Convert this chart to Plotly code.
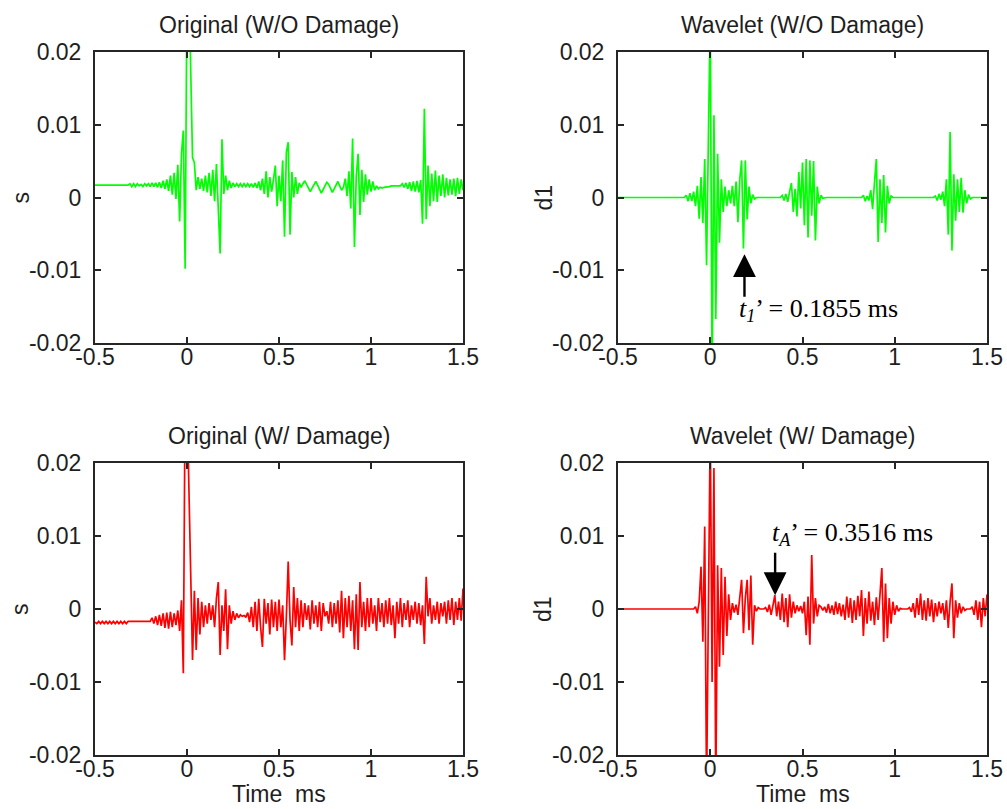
import numpy as np
import plotly.graph_objects as go

# Sample times (ms), 0.01 ms spacing from -0.5 to 1.5
time_ms = np.round(np.linspace(-0.5, 1.5, 201), 2)

# Signal amplitudes in units of 1e-3, one row per 0.1 ms
orig_no_damage = [
    1.7, 1.7, 1.7, 1.7, 1.7, 1.7, 1.7, 1.7, 1.7, 1.7,
    1.7, 1.7, 1.7, 1.7, 1.7, 1.7, 1.7, 1.7, 1.7, 1.9,
    1.5, 1.9, 1.5, 1.9, 1.6, 1.8, 1.5, 1.9, 1.6, 1.9,
    1.5, 2.0, 1.5, 2.0, 1.4, 2.1, 1.3, 2.3, 1.2, 2.5,
    0.9, 3.0, 0.4, 3.4, -0.2, 4.5, -3.3, 6.0, 9.2, -9.8,
    30, 30, 17, 5.5, 4.8, 1.0, 2.8, 1.2, 2.6, 0.9,
    3.0, 0.7, 3.4, 0.2, 3.8, -0.5, 4.6, -1.8, -7.7, 8.0,
    0.5, 3.0, 1.0, 2.3, 1.3, 2.0, 1.5, 1.9, 1.5, 1.9,
    1.5, 1.9, 1.5, 1.9, 1.5, 1.9, 1.4, 2.0, 1.3, 2.2,
    1.0, 2.6, 0.5, 3.6, 0.0, 2.8, 0.8, 2.5, 4.4, -1.2,
    3.0, -0.5, 5.1, -5.4, 6.2, 7.6, -5.1, 3.5, 0.0, 2.8,
    0.5, 2.0, 1.4, 1.9, 2.3, 1.8, 1.2, 0.8, 1.3, 1.8,
    2.2, 1.7, 1.2, 0.6, 1.1, 1.6, 2.1, 1.8, 1.2, 0.7,
    1.2, 1.7, 2.2, 1.6, 1.0, 1.4, 2.6, 0.2, 3.6, -1.5,
    8.1, -6.8, 3.0, 6.0, -2.4, 3.8, -0.6, 3.2, 0.4, 2.5,
    0.8, 2.2, 1.0, 1.6, 1.2, 1.4, 1.3, 1.4, 1.4, 1.5,
    1.5, 1.6, 1.6, 1.7, 1.6, 1.7, 1.6, 1.9, 1.4, 2.0,
    1.2, 2.1, 0.9, 2.2, 0.8, 2.3, 0.7, 2.4, -3.6, 12.2,
    -3.0, 4.4, -1.2, 3.3, -0.5, 3.7, -0.6, 3.0, 0.2, 3.2,
    0.0, 2.7, 0.3, 2.5, 0.4, 2.6, 0.2, 2.7, 0.5, 2.5,
    1.0,
]

wavelet_no_damage = [
    0, 0, 0, 0, 0, 0, 0, 0, 0, 0,
    0, 0, 0, 0, 0, 0, 0, 0, 0, 0,
    0, 0, 0, 0, 0, 0, 0, 0, 0, 0,
    0, 0, 0, 0, 0, 0, 0, 0.3, -0.5, 0.6,
    -0.5, 0.8, -1.2, 1.6, -2.9, 2.8, -3.5, 5.3, -9.3, 8.3,
    25, -25, 11.3, -16.7, 6.0, -6.2, 2.5, -2.0, 1.5, -1.2,
    1.0, -0.8, 1.6, -1.2, 2.2, -3.4, 2.5, 5.1, -7.0, 5.1,
    -3.0, 1.5, -0.8, 0.4, -0.2, 0, 0, 0, 0, 0,
    0, 0, 0, 0, 0, 0, 0, 0, 0, 0.3,
    -0.4, 0.5, -0.6, 0.8, 2.0, -2.0, 1.2, -2.6, 3.5, -1.5,
    4.8, -3.8, 5.3, -5.5, 5.1, -2.5, 5.0, -5.9, 1.5, -0.8,
    0.3, -0.1, 0, 0, 0, 0, 0, 0, 0, 0,
    0, 0, 0, 0, 0, 0, 0, 0, 0, 0,
    0, 0, 0, 0.3, -0.5, 0.2, -0.4, 1.0, -1.6, 2.0,
    5.3, -6.1, 2.5, -3.5, 3.1, -4.8, 1.6, -0.8, 0.2, 0,
    0, 0, 0, 0, 0, 0, 0, 0, 0, 0,
    0, 0, 0, 0, 0, 0, 0, 0, 0, 0,
    0, 0, 0.2, -0.4, 0.5, -0.3, 0.8, -1.2, 2.5, -5.1,
    9.0, -7.3, 3.2, -3.2, 2.5, -2.0, 2.7, -2.1, 1.0, -0.8,
    0.4, -0.2, 0, 0, 0, 0, 0, 0, 0, 0,
    0,
]

orig_damage = [
    -1.8, -2.0, -1.7, -2.0, -1.7, -2.0, -1.7, -2.0, -1.7, -2.0,
    -1.7, -2.0, -1.7, -2.0, -1.7, -2.0, -1.7, -2.0, -1.7, -1.7,
    -1.7, -1.7, -1.7, -1.7, -1.7, -1.7, -1.7, -1.7, -1.7, -1.7,
    -1.7, -1.2, -2.0, -1.0, -2.2, -0.8, -2.3, -0.6, -2.6, -0.5,
    -2.7, -0.4, -2.5, -0.6, -2.2, -0.2, -3.0, 1.2, -8.8, 30,
    30, 17, 5.1, -7.0, 2.5, -5.6, 1.5, -3.5, 1.0, -2.5,
    0.5, -2.0, 0.8, -1.5, 0.5, -2.5, 1.5, 3.7, -6.3, 0.5,
    -3.0, 2.7, -5.5, 0.5, -2.0, -0.3, -1.5, -0.6, -1.2, -0.8,
    -1.0, -0.9, -1.1, -0.5, -1.8, 0.3, -2.5, 1.0, -3.0, 1.4,
    -2.5, -5.2, 1.4, -2.0, 0.8, -3.5, 1.3, -2.5, 1.0, -3.0,
    1.3, -2.5, 0.5, -7.0, -1.0, 6.5, -1.5, -5.0, 3.0, -2.5,
    1.5, -3.0, 1.2, -2.5, 0.8, -1.5, 0.5, -2.8, 1.2, -2.0,
    0.5, -2.5, 1.0, -3.0, 0.8, -1.0, -0.3, -2.0, 1.0, -2.5,
    0.8, -2.0, 1.2, -3.2, 2.5, -4.0, 1.5, -2.5, 1.8, -3.0,
    1.2, -5.5, 2.0, -5.6, 3.7, -2.5, 1.0, -3.0, 1.5, -2.5,
    1.5, -2.0, 0.5, -3.0, 1.5, -1.8, 0.8, -2.5, 1.2, -2.0,
    1.5, -2.2, 0.5, -4.0, 1.0, -2.0, 1.5, -2.5, 0.8, -1.5,
    1.2, -2.5, 0.5, -1.5, 1.0, -2.0, 0.8, -2.2, 0.5, -4.8,
    4.4, -1.0, 1.5, -2.0, 0.5, -1.5, 1.0, -2.0, 0.8, -1.0,
    1.0, -2.0, 1.2, -1.5, 1.5, -2.2, 1.0, -1.5, 1.5, -1.6,
    2.8,
]

wavelet_damage = [
    0, 0, 0, 0, 0, 0, 0, 0, 0, 0,
    0, 0, 0, 0, 0, 0, 0, 0, 0, 0,
    0, 0, 0, 0, 0, 0, 0, 0, 0, 0,
    0, 0, 0, 0, 0, 0, 0, 0, 0, 0,
    0, 0, 0.3, -0.6, 1.0, 5.8, -4.5, 11.3, -25, 4.0,
    25, -10, 19.3, -25, 6.0, -7.9, 5.6, -6.3, 4.4, -3.7,
    2.0, -1.5, 0.8, -0.5, 0.6, -0.8, 1.5, 4.0, -3.3, 1.5,
    4.0, -2.9, 4.6, -4.9, 0.5, -0.3, 0.2, 0, 0, 0,
    0.2, -0.4, 0.6, -0.8, 0.5, 1.9, -1.0, 1.0, -1.5, 2.1,
    -1.8, 1.5, -2.5, 2.0, -1.2, 1.0, -0.6, 0.5, -0.3, 0.4,
    -0.6, 1.0, -3.6, 1.7, -4.9, 7.4, -2.0, 1.5, -1.0, 0.5,
    0.3, -0.2, 0.3, -0.5, 0.7, -0.6, 0.5, -0.8, 1.0, -0.7,
    0.8, -1.0, 0.6, -1.5, 1.7, -1.2, 1.5, -1.9, 1.2, -1.5,
    1.8, -1.0, 2.6, -3.7, 1.5, -2.0, 2.4, -1.6, 1.0, -2.2,
    1.6, -1.5, 2.0, 5.6, -4.5, 3.5, -4.0, 1.5, -2.0, 1.0,
    -0.8, 0.5, -0.3, 0.1, 0, 0, 0, 0, 0.2, -0.4,
    0.8, -1.2, 1.5, -0.8, 2.1, -1.5, 1.2, -1.6, 1.5, -1.0,
    1.3, -1.8, 0.8, -1.0, 1.0, -0.6, 0.8, -1.5, 1.2, -2.6,
    1.0, 3.5, -4.0, 1.2, -1.2, 0.8, -0.6, 0.3, -0.2, 0,
    0, 0, 0.3, -0.8, 1.2, -1.5, 1.0, -2.5, 1.5, -1.0,
    2.0,
]

# Marked arrival times (ms) and the amplitude the arrows point at
T1_PRIME = 0.1855
T1_AMP = -0.0078
TA_PRIME = 0.3516
TA_AMP = 0.0019

x_ticks = [-0.5, 0, 0.5, 1, 1.5]
x_tick_text = ["-0.5", "0", "0.5", "1", "1.5"]
y_ticks = [-0.02, -0.01, 0, 0.01, 0.02]
y_tick_text = ["-0.02", "-0.01", "0", "0.01", "0.02"]

panels = [
    ("Original (W/O Damage)", orig_no_damage, "#00ff00", "s"),
    ("Wavelet (W/O Damage)", wavelet_no_damage, "#00ff00", "d1"),
    ("Original (W/ Damage)", orig_damage, "#ff0000", "s"),
    ("Wavelet (W/ Damage)", wavelet_damage, "#ff0000", "d1"),
]

W, H = 1007, 809
# Plot boxes in pixels: (left, right, top, bottom)
boxes = [(95, 463, 52, 343), (618, 987, 52, 343),
         (95, 463, 463, 755), (618, 987, 463, 755)]

SANS = "Liberation Sans, Arial, sans-serif"
SERIF = "Liberation Serif, Times New Roman, serif"
INK = "#1e1e1e"

fig = go.Figure()
layout = dict(
    template="none",
    width=W, height=H, autosize=False,
    margin=dict(l=0, r=0, t=0, b=0, autoexpand=False),
    paper_bgcolor="white", plot_bgcolor="white",
    showlegend=False,
)
annotations = []

for i, ((title, vals, color, ylab), (l, r, t, b)) in enumerate(zip(panels, boxes)):
    k = "" if i == 0 else str(i + 1)
    fig.add_trace(go.Scatter(
        x=time_ms, y=np.array(vals) * 1e-3, mode="lines",
        line=dict(color=color, width=1.7),
        xaxis="x" + k, yaxis="y" + k, hoverinfo="skip",
    ))
    common = dict(
        showline=True, linecolor="#262626", linewidth=2, mirror="ticks",
        ticks="inside", ticklen=6, tickwidth=1.5, tickcolor="#262626",
        showgrid=False, zeroline=False, automargin=False,
        tickfont=dict(family=SANS, size=23, color=INK),
    )
    layout["xaxis" + k] = dict(
        common, domain=[l / W, r / W], range=[-0.5, 1.5],
        tickvals=x_ticks, ticktext=x_tick_text, anchor="y" + k,
        ticklabelstandoff=-8,
    )
    layout["yaxis" + k] = dict(
        common, domain=[1 - b / H, 1 - t / H], range=[-0.02, 0.02],
        tickvals=y_ticks, ticktext=y_tick_text, anchor="x" + k,
        ticklabelstandoff=7,
    )
    cx = (l + r) / 2
    annotations.append(dict(
        text=title, xref="paper", yref="paper", x=cx / W, y=1 - (t - 27) / H,
        xanchor="center", yanchor="middle", showarrow=False,
        font=dict(family=SANS, size=23, color=INK),
    ))
    annotations.append(dict(
        text=ylab, xref="paper", yref="paper",
        x=(l - 75) / W, y=1 - ((t + b) / 2) / H, textangle=-90,
        xanchor="center", yanchor="middle", showarrow=False,
        font=dict(family=SANS, size=23, color=INK),
    ))
    if i >= 2:
        annotations.append(dict(
            text="Time\u00a0\u00a0ms", xref="paper", yref="paper",
            x=cx / W, y=0, xanchor="center", yanchor="bottom",
            showarrow=False, font=dict(family=SANS, size=23, color=INK),
        ))

# Arrows and labels for the marked arrival times
arrow_style = dict(showarrow=True, arrowhead=2, arrowsize=1.9, arrowwidth=2.4,
                   arrowcolor="black", standoff=0, text="")
annotations += [
    dict(arrow_style, x=T1_PRIME, y=T1_AMP, xref="x2", yref="y2", ax=0, ay=44),
    dict(x=0.145, y=-0.0155, xref="x2", yref="y2",
         text="<i>t</i><sub><i>1</i></sub>\u2019 = " + f"{T1_PRIME:.4f}" + " ms",
         xanchor="left", yanchor="middle", showarrow=False,
         font=dict(family=SERIF, size=26, color="black")),
    dict(arrow_style, x=TA_PRIME, y=TA_AMP, xref="x4", yref="y4", ax=0, ay=-44),
    dict(x=0.324, y=0.0103, xref="x4", yref="y4",
         text="<i>t</i><sub><i>A</i></sub>\u2019 = " + f"{TA_PRIME:.4f}" + " ms",
         xanchor="left", yanchor="middle", showarrow=False,
         font=dict(family=SERIF, size=26, color="black")),
]
layout["annotations"] = annotations
fig.update_layout(**layout)

fig.write_html("out.html")
